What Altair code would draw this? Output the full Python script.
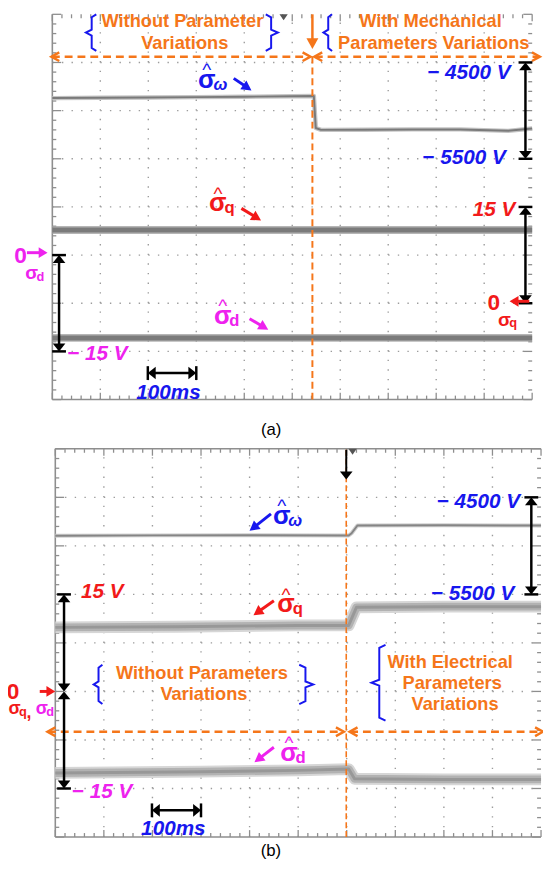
import math
import altair as alt
import numpy as np
import pandas as pd

FONT = "Liberation Sans"
ORANGE = "#F5761A"
BLUE = "#1717EE"
RED = "#F21A1A"
MAGENTA = "#EE22EE"
BLACK = "#000000"
FRAME = "#8e8e8e"
DOTS = "#9c9c9c"

# ---------------- measured traces: time (ms), value (V) ----------------
# panel (a): mechanical parameter variation
A_OMEGA_T = [0, 100, 200, 300, 400, 500, 545, 549, 560, 650, 750, 850, 950, 1000]
A_OMEGA_V = [-4870, -4866, -4864, -4860, -4856, -4850, -4848, -5180, -5200, -5198, -5195, -5195, -5210, -5185]
A_Q_T = [0, 1000]
A_Q_V = [11.4, 11.4]
A_D_T = [0, 1000]
A_D_V = [-12.9, -12.9]
# panel (b): electrical parameter variation
B_OMEGA_T = [0, 200, 400, 604, 610, 622, 800, 1000]
B_OMEGA_V = [-4895, -4892, -4890, -4893, -4870, -4790, -4788, -4790]
B_Q_T = [0, 250, 500, 604, 620, 800, 1000]
B_Q_V = [9.9, 10.0, 10.2, 10.2, 13.0, 13.1, 13.1]
B_D_T = [0, 300, 500, 604, 616, 800, 1000]
B_D_V = [-12.6, -12.4, -12.2, -12.0, -13.5, -13.6, -13.6]

# channel settings: (division offset, volts per division)
OMEGA_CH = (16.0, 500.0)      # -4500 V at div 7, 500 V/div
A_Q_CH = (2.0, 7.5)
A_D_CH = (3.0, 7.5)
B_Q_CH = (3.0, 7.5)
B_D_CH = (3.0, 7.5)

CHART_W, CHART_H = 543, 857


class Panel:
    def __init__(self, xl, xr, yt, yb):
        self.kx = (xr - xl) / 1000.0
        self.ky = (yb - yt) / 8.0
        self.xs = alt.Scale(domain=[0, 1000], range=[xl, xr], nice=False, zero=False)
        self.ys = alt.Scale(domain=[0, 8], range=[yb, yt], nice=False, zero=False)
        self.layers = []

    def X(self, f="x"):
        return alt.X(f"{f}:Q", scale=self.xs, axis=None)

    def Y(self, f="y"):
        return alt.Y(f"{f}:Q", scale=self.ys, axis=None)

    def chart(self):
        return alt.layer(*self.layers)


def segs(p, rows, color, w, dash=None, opacity=1.0):
    df = pd.DataFrame(rows, columns=["x", "y", "x2", "y2"])
    kw = dict(color=color, strokeWidth=w, opacity=opacity)
    if dash:
        kw["strokeDash"] = dash
    p.layers.append(
        alt.Chart(df).mark_rule(**kw).encode(
            x=p.X(), y=p.Y(), x2=alt.X2("x2:Q"), y2=alt.Y2("y2:Q"))
    )


def head(p, x, y, ux, uy, color, L, half=0.6, kind="tri", sw=2.5):
    ang = math.degrees(math.atan2(ux, -uy)) % 360
    df = pd.DataFrame({"x": [x], "y": [y]})
    if kind == "tri":
        path = f"M0,0L{-half},1L{half},1Z"
        mk = dict(shape=path, size=4 * L * L, angle=ang, filled=True, color=color, opacity=1)
    else:
        path = f"M{-half},1L0,0L{half},1"
        mk = dict(shape=path, size=4 * L * L, angle=ang, filled=False, color=color,
                  strokeWidth=sw, opacity=1)
    p.layers.append(alt.Chart(df).mark_point(**mk).encode(x=p.X(), y=p.Y()))


def arrow(p, x1, y1, x2, y2, color, w=2.5, L=9, half=0.6, both=False, dash=None, kind="tri"):
    dxp = (x2 - x1) * p.kx
    dyp = -(y2 - y1) * p.ky
    n = math.hypot(dxp, dyp)
    ux, uy = dxp / n, dyp / n
    back = L * 0.6 if kind == "tri" else 0.5
    ex, ey = x2 - ux * back / p.kx, y2 + uy * back / p.ky
    sx, sy = x1, y1
    if both:
        sx, sy = x1 + ux * back / p.kx, y1 - uy * back / p.ky
    segs(p, [(sx, sy, ex, ey)], color, w, dash)
    head(p, x2, y2, ux, uy, color, L, half, kind)
    if both:
        head(p, x1, y1, -ux, -uy, color, L, half, kind)


def vmeasure(p, x, ytop, ybot, cap_top=True, cap_bot=True, capw=7):
    arrow(p, x, ybot, x, ytop, BLACK, w=2.5, L=8, half=0.8, both=True)
    cx = capw / p.kx
    rows = []
    if cap_top:
        rows.append((x - cx, ytop, x + cx, ytop))
    if cap_bot:
        rows.append((x - cx, ybot, x + cx, ybot))
    if rows:
        segs(p, rows, BLACK, 2.5)


def hmeasure(p, x1, x2, y, caph=7):
    arrow(p, x1, y, x2, y, BLACK, w=2.5, L=8, half=0.8, both=True)
    cy = caph / p.ky
    segs(p, [(x1, y - cy, x1, y + cy), (x2, y - cy, x2, y + cy)], BLACK, 2.5)


def brace(p, xtip, xbody, ytop, ybot, color=BLUE, w=2):
    r = 3 / p.ky
    xe = xbody + (xbody - xtip) * 0.8
    ym = (ytop + ybot) / 2
    pts = [(xe, ytop), (xbody, ytop - r), (xbody, ym + r), (xtip, ym),
           (xbody, ym - r), (xbody, ybot + r), (xe, ybot)]
    df = pd.DataFrame({"x": [a for a, _ in pts], "y": [b for _, b in pts], "i": list(range(len(pts)))})
    p.layers.append(alt.Chart(df).mark_line(color=color, strokeWidth=w).encode(
        x=p.X(), y=p.Y(), order="i:Q"))


def txt(p, x, y, s, color, size, weight="bold", style="normal", align="center", dx=0, dy=0):
    df = pd.DataFrame({"x": [x], "y": [y], "s": [s]})
    p.layers.append(alt.Chart(df).mark_text(
        font=FONT, fontSize=size, fontWeight=weight, fontStyle=style, color=color,
        align=align, baseline="middle", dx=dx, dy=dy).encode(x=p.X(), y=p.Y(), text="s:N"))


def sigma(p, x, y, sub, color, size=26, hat=True, subsize=None, sub_italic=False):
    subsize = subsize or size * 0.65
    txt(p, x, y, "σ", color, size)
    if hat:
        hs = size * 0.75
        txt(p, x, y, "^", color, hs, weight="normal", dy=-(11 * size / 20) + 0.22 * hs)
    txt(p, x, y, sub, color, subsize, style="italic" if sub_italic else "normal",
        align="left", dx=size * 0.26, dy=size * 0.19)


def trace(p, t, v, ch, styles):
    off, vpd = ch
    df = pd.DataFrame({"t": t, "v": v})
    for color, w, op in styles:
        p.layers.append(
            alt.Chart(df).transform_calculate(y=f"{off} + datum.v / {vpd}")
            .mark_line(color=color, strokeWidth=w, opacity=op, strokeJoin="round")
            .encode(x=p.X("t"), y=p.Y("y"))
        )


def frame(p, top_line):
    vx = [(t, 0, t, 8) for t in range(100, 1000, 100)]
    segs(p, vx, DOTS, 1.4, dash=[1.4, 0.2 * p.ky - 1.4])
    hy = [(0, d, 1000, d) for d in range(1, 8)]
    segs(p, hy, DOTS, 1.4, dash=[1.4, 20 * p.kx - 1.4])
    ticks = []
    for k in range(41):
        y = k * 0.2
        L = 9 if k % 5 == 0 else 4
        ticks.append((0, y, L / p.kx, y))
        ticks.append((1000 - L / p.kx, y, 1000, y))
    for k in range(51):
        t = 20 * k
        L = 7 if k % 5 == 0 else 4
        ticks.append((t, 0, t, L / p.ky))
        ticks.append((t, 8 - L / p.ky, t, 8))
    segs(p, ticks, FRAME, 1.3)
    border = [(0, 0, 0, 8), (0, 0, 1000, 0)]
    if top_line:
        border.append((0, 8, 1000, 8))
    segs(p, border, FRAME, 1.6)


W_STYLE_A = [("#c4c4c4", 4.5, 1), ("#7a7a7a", 2, 1)]
QD_STYLE_A = [("#a4a4a4", 8, 0.8), ("#7b7b7b", 5, 1)]
W_STYLE_B = [("#cfcfcf", 4, 1), ("#858585", 2, 1)]
QD_STYLE_B = [("#d6d6d6", 12, 1), ("#b2b2b2", 8, 1), ("#989898", 3, 1)]

LBL = 21

# ======================= panel (a) =======================
pa = Panel(45, 532, 0, 391)
frame(pa, top_line=False)
trace(pa, A_OMEGA_T, A_OMEGA_V, OMEGA_CH, W_STYLE_A)
trace(pa, A_Q_T, A_Q_V, A_Q_CH, QD_STYLE_A)
trace(pa, A_D_T, A_D_V, A_D_CH, QD_STYLE_A)
head(pa, 482, 8 - 6 / pa.ky, 0, 1, "#555555", 6, 0.7)
segs(pa, [(542, 0, 542, 7.2)], ORANGE, 2, dash=[7, 4])
arrow(pa, 542, 8.0, 542, 7.28, ORANGE, w=2.5, L=11, half=0.55)
arrow(pa, -2, 7.12, 538, 7.12, ORANGE, w=2.5, L=8, half=0.55, both=True, dash=[8, 5], kind="chev")
arrow(pa, 546, 7.12, 1016, 7.12, ORANGE, w=2.5, L=8, half=0.55, both=True, dash=[8, 5], kind="chev")
txt(pa, 271, 7.85, "Without Parameter", ORANGE, 18.5)
txt(pa, 276, 7.40, "Variations", ORANGE, 18.5)
txt(pa, 788, 7.85, "With Mechanical", ORANGE, 18.5)
txt(pa, 795, 7.40, "Parameters Variations", ORANGE, 18.5)
brace(pa, 70, 82, 8.0, 7.24)
brace(pa, 470, 456, 8.0, 7.24)
brace(pa, 565, 575, 8.0, 7.24)
sigma(pa, 322, 6.63, "ω", BLUE, sub_italic=True)
arrow(pa, 378, 6.67, 415, 6.42, BLUE, w=3, L=10, half=0.55)
sigma(pa, 345, 4.07, "q", RED)
arrow(pa, 394, 3.97, 435, 3.72, RED, w=3, L=10, half=0.55)
sigma(pa, 355, 1.74, "d", MAGENTA)
arrow(pa, 411, 1.68, 450, 1.45, MAGENTA, w=3, L=10, half=0.55)
txt(pa, 955, 6.77, "− 4500 V", BLUE, LBL, style="italic", align="right")
txt(pa, 945, 5.01, "− 5500 V", BLUE, LBL, style="italic", align="right")
vmeasure(pa, 986, 7.0, 5.0)
txt(pa, 965, 3.93, "15 V", RED, LBL, style="italic", align="right")
vmeasure(pa, 986, 4.0, 2.0)
txt(pa, 920, 2.0, "0", RED, 23)
sigma(pa, 942, 1.66, "q", RED, size=19, hat=False, subsize=13)
arrow(pa, 994, 2.04, 953, 2.04, RED, w=3, L=9, half=0.6)
txt(pa, -66, 2.97, "0", MAGENTA, 23)
sigma(pa, -43, 2.62, "d", MAGENTA, size=19, hat=False, subsize=13)
arrow(pa, -53, 3.05, -10, 3.05, MAGENTA, w=3, L=9, half=0.6)
vmeasure(pa, 14, 3.0, 1.0)
txt(pa, 31, 0.94, "− 15 V", MAGENTA, LBL, style="italic", align="left")
hmeasure(pa, 199, 300, 0.55)
txt(pa, 242, 0.14, "100ms", BLUE, LBL, style="italic")
txt(pa, 456, -0.63, "(a)", BLACK, 17, weight="normal")

# ======================= panel (b) =======================
pb = Panel(48, 541, 441, 835)
frame(pb, top_line=True)
trace(pb, B_OMEGA_T, B_OMEGA_V, OMEGA_CH, W_STYLE_B)
trace(pb, B_Q_T, B_Q_V, B_Q_CH, QD_STYLE_B)
trace(pb, B_D_T, B_D_V, B_D_CH, QD_STYLE_B)
head(pb, 612, 8 - 6 / pb.ky, 0, 1, "#555555", 6, 0.7)
segs(pb, [(599, 0, 599, 8)], ORANGE, 1.6, dash=[6, 3])
arrow(pb, 599, 7.98, 599, 7.37, BLACK, w=2, L=8, half=0.8)
arrow(pb, -16, 2.17, 594, 2.17, ORANGE, w=2.5, L=8, half=0.55, both=True, dash=[8, 5], kind="chev")
arrow(pb, 606, 2.17, 1004, 2.17, ORANGE, w=2.5, L=8, half=0.55, both=True, dash=[8, 5], kind="chev")
txt(pb, 302, 3.37, "Without Parameters", ORANGE, 18.5)
txt(pb, 306, 2.94, "Variations", ORANGE, 18.5)
brace(pb, 79, 89, 3.55, 2.74)
brace(pb, 531, 515, 3.55, 2.74)
txt(pb, 813, 3.61, "With Electrical", ORANGE, 18.5)
txt(pb, 817, 3.17, "Parameters", ORANGE, 18.5)
txt(pb, 823, 2.74, "Variations", ORANGE, 18.5)
brace(pb, 651, 667, 3.96, 2.40)
sigma(pb, 466, 6.62, "ω", BLUE, sub_italic=True)
arrow(pb, 444, 6.66, 400, 6.31, BLUE, w=3, L=10, half=0.55)
sigma(pb, 475, 4.79, "q", RED)
arrow(pb, 450, 4.87, 408, 4.57, RED, w=3, L=10, half=0.55)
sigma(pb, 481, 1.73, "d", MAGENTA)
arrow(pb, 450, 1.85, 410, 1.54, MAGENTA, w=3, L=10, half=0.55)
txt(pb, 957, 6.90, "− 4500 V", BLUE, LBL, style="italic", align="right")
txt(pb, 945, 5.0, "− 5500 V", BLUE, LBL, style="italic", align="right")
vmeasure(pb, 980, 7.0, 5.0)
txt(pb, 53, 5.04, "15 V", RED, LBL, style="italic", align="left")
vmeasure(pb, 18, 5.0, 3.0, cap_top=True, cap_bot=False)
vmeasure(pb, 18, 3.0, 1.0, cap_top=False, cap_bot=True)
txt(pb, 34, 0.93, "− 15 V", MAGENTA, LBL, style="italic", align="left")
txt(pb, -87, 2.98, "0", RED, 23)
arrow(pb, -32, 3.0, 0, 3.0, RED, w=3, L=9, half=0.6)
sigma(pb, -84, 2.64, "q", RED, size=18, hat=False, subsize=13)
txt(pb, -54, 2.56, ",", RED, 18)
sigma(pb, -28, 2.64, "d", MAGENTA, size=18, hat=False, subsize=13)
hmeasure(pb, 199, 300, 0.55)
txt(pb, 243, 0.16, "100ms", BLUE, LBL, style="italic")
txt(pb, 444, -0.30, "(b)", BLACK, 17, weight="normal")

chart = alt.layer(pa.chart(), pb.chart()).resolve_scale(
    x="independent", y="independent"
).properties(
    width=CHART_W, height=CHART_H,
    autosize=alt.AutoSizeParams(type="none"),
    padding=0,
).configure_view(stroke=None)

chart.save("out.html", embed_options={"renderer": "svg", "actions": False})
